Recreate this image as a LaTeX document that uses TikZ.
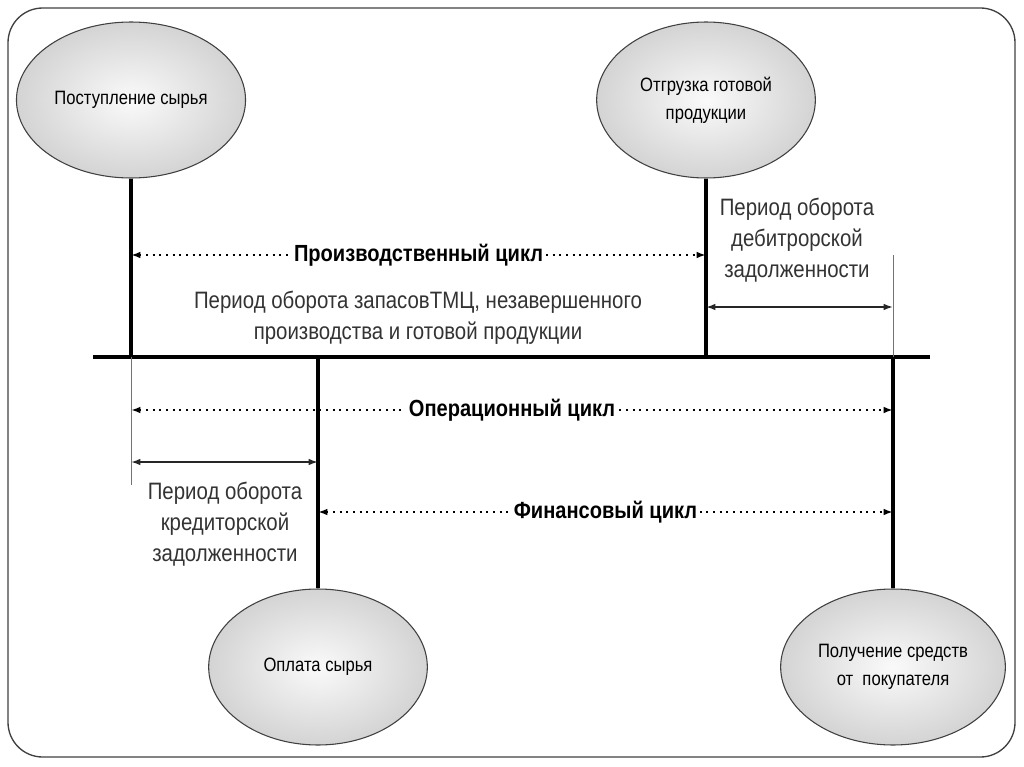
\documentclass[tikz,border=0pt]{standalone}
\usepackage{fontspec}
\setmainfont{Liberation Sans}[FakeStretch=0.86]
\usetikzlibrary{positioning, arrows.meta, shapes.geometric}

\begin{document}
\begin{tikzpicture}[
  x=0.75pt, y=-0.75pt, >={Latex[length=7pt,width=5pt]},
  event/.style={ellipse, draw=black!75, thick, inner color=black!2,
                outer color=black!17, minimum width=164pt, minimum height=117pt,
                align=center, font=\fontsize{14.5}{21}\selectfont},
  note/.style={align=center, text=black!80, font=\fontsize{17.8}{23}\selectfont},
  lab/.style={fill=white, inner sep=2pt, font=\bfseries\fontsize{17.5}{20}\selectfont},
  axis/.style={line width=2.6pt},
  guide/.style={black!55, line width=0.6pt},
  cyc/.style={<->, line width=1.5pt, dash pattern=on 1.5pt off 3.5pt},
  span/.style={<->, line width=1.3pt, black!85},
]
\useasboundingbox (0,0) rectangle (1024,767);
\draw[black!75, line width=1pt, rounded corners=26pt] (8,8) rectangle (1015,757);

% --- events ---
\node[event] (raw)  at (131,100) {Поступление сырья};
\node[event] (ship) at (706,100) {Отгрузка готовой\\продукции};
\node[event] (pay)  at (318,667) {Оплата сырья};
\node[event] (cash) at (893,667) {Получение средств\\от~~покупателя};

% --- time axis ---
\coordinate (tl) at (93,357);
\coordinate (tr) at (930,357);
\draw[axis] (tl) -- (tr);
\draw[axis] (raw.south) -- (raw.south |- tl);
\draw[axis] (ship.south) -- (ship.south |- tl);
\draw[axis] (pay.north) -- (pay.north |- tl);
\draw[axis] (cash.north) -- (cash.north |- tl);
\draw[guide] (raw.south |- tl) -- ++(0,128);
\draw[guide] (cash.north |- tl) -- ++(0,-102);

% --- levels ---
\coordinate (yprod) at (0,255);
\coordinate (yrecv) at (0,307);
\coordinate (yop)   at (0,410);
\coordinate (ypayb) at (0,462);
\coordinate (yfin)  at (0,512);

% --- cycles ---
\draw[cyc] (raw.south |- yprod) -- node[lab] (prod) {Производственный цикл} (ship.south |- yprod);
\draw[cyc] (raw.south |- yop) -- node[lab] (oper) {Операционный цикл} (cash.north |- yop);
\draw[cyc] (pay.north |- yfin) -- node[lab] (fin) {Финансовый цикл} (cash.north |- yfin);
\draw[span] (ship.south |- yrecv) -- (cash.north |- yrecv);
\draw[span] (raw.south |- ypayb) -- (pay.north |- ypayb);

% --- periods ---
\node[note] (stock) at (418,318) {Период оборота запасовТМЦ, незавершенного\\производства и готовой продукции};
\node[note] (recv) at (797,240) {Период оборота\\дебитрорской\\задолженности};
\node[note] (debt) at (225,524) {Период оборота\\кредиторской\\задолженности};
\end{tikzpicture}
\end{document}
